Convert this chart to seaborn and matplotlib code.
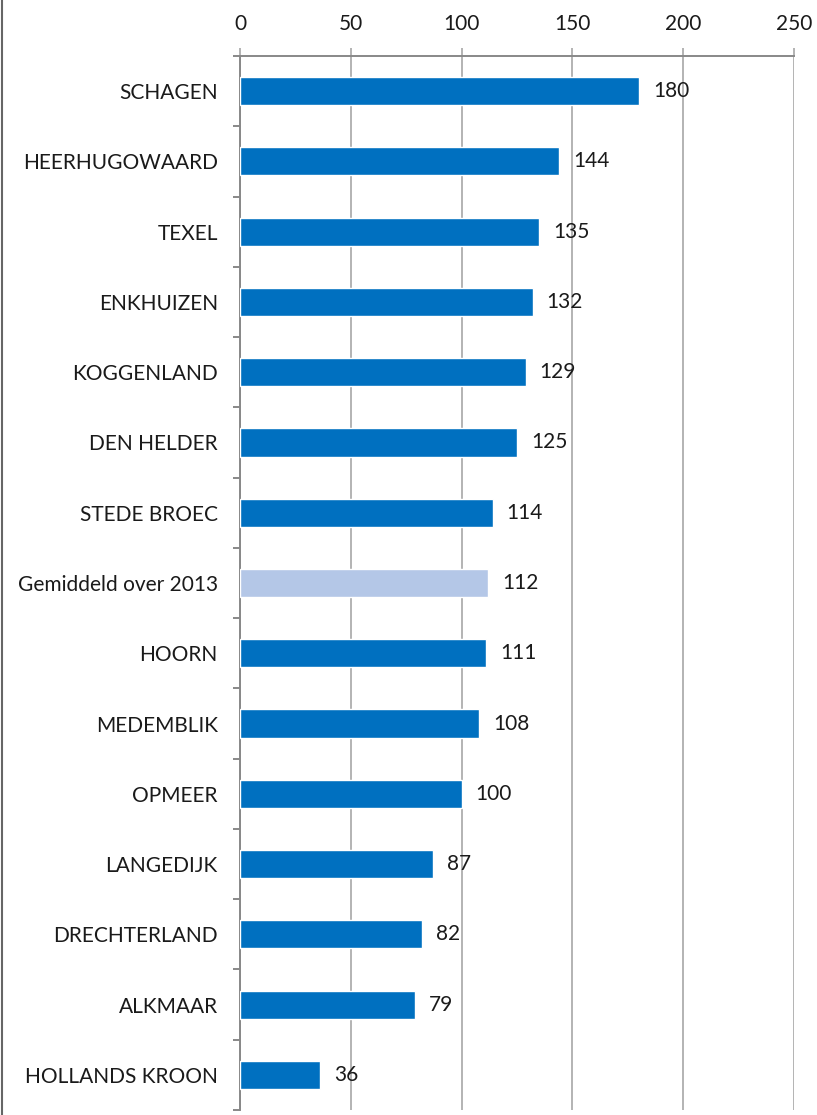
import pandas as pd
import seaborn as sns
import matplotlib.pyplot as plt
from matplotlib.lines import Line2D
from matplotlib.ticker import FixedLocator

gemeenten = ['SCHAGEN', 'HEERHUGOWAARD', 'TEXEL', 'ENKHUIZEN', 'KOGGENLAND',
             'DEN HELDER', 'STEDE BROEC', 'Gemiddeld over 2013', 'HOORN',
             'MEDEMBLIK', 'OPMEER', 'LANGEDIJK', 'DRECHTERLAND', 'ALKMAAR',
             'HOLLANDS KROON']
waarden = [180, 144, 135, 132, 129, 125, 114, 112, 111, 108, 100, 87, 82, 79, 36]
x_ticks = [0, 50, 100, 150, 200, 250]

df = pd.DataFrame({'gemeente': gemeenten, 'waarde': waarden})
df['soort'] = ['gemiddeld' if g.startswith('Gemiddeld') else 'gemeente' for g in gemeenten]

sns.set_style("white")
plt.rcParams['font.family'] = ['Lato', 'DejaVu Sans']

fig = plt.figure(figsize=(8.17, 11.15), dpi=100)
ax = fig.add_axes([240 / 817, 1 - 1110 / 1115, 554 / 817, 1054 / 1115])

sns.barplot(data=df, x='waarde', y='gemeente', hue='soort', orient='h',
            palette={'gemeente': '#0070C0', 'gemiddeld': '#B4C7E7'},
            saturation=1, dodge=False, width=0.4, legend=False, ax=ax, zorder=3)

for c in ax.containers:
    ax.bar_label(c, padding=10, fontsize=15, color='#1a1a1a')

ax.set_xlim(0, 250)
ax.set_ylim(len(gemeenten) - 0.5, -0.5)
ax.set_xticks(x_ticks)
ax.xaxis.tick_top()
ax.set_xlabel('')
ax.set_ylabel('')
ax.grid(axis='x', color='#b3b3b3', linewidth=1.4, zorder=0)
ax.tick_params(axis='x', top=True, length=6, color='#b3b3b3', width=1.4, pad=10,
               labelsize=15, labelcolor='#1a1a1a')
ax.tick_params(axis='y', length=0, pad=16, labelsize=15, labelcolor='#1a1a1a')
# kleine streepjes tussen de categorieen
ax.yaxis.set_minor_locator(FixedLocator([i - 0.5 for i in range(len(gemeenten) + 1)]))
ax.tick_params(axis='y', which='minor', left=True, length=5, color='#888888', width=1.4)

for side in ['right', 'bottom']:
    ax.spines[side].set_visible(False)
ax.spines['top'].set_color('#888888')
ax.spines['left'].set_color('#888888')
ax.spines['top'].set_linewidth(1.4)
ax.spines['left'].set_linewidth(1.4)

fig.add_artist(Line2D([0.003, 0.003], [0, 1], transform=fig.transFigure,
                      color='#666666', linewidth=1.5))

fig.savefig('out.png', dpi=100)
